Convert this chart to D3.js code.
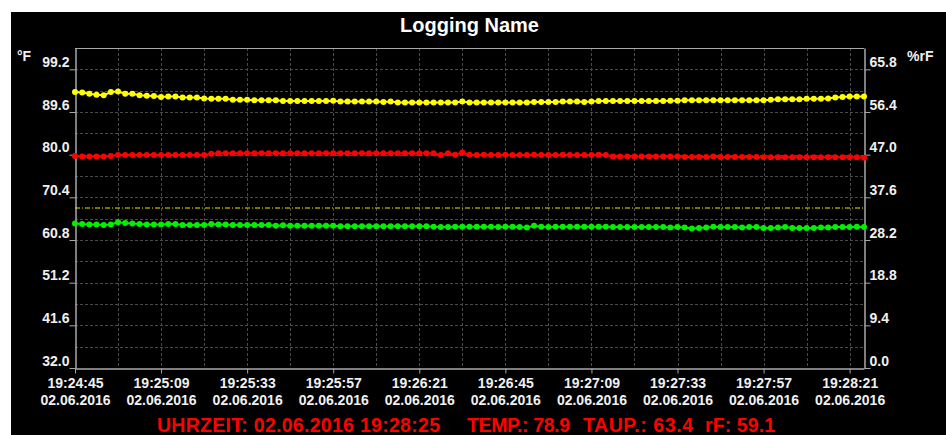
<!DOCTYPE html>
<html>
<head>
<meta charset="utf-8">
<script src="https://cdnjs.cloudflare.com/ajax/libs/d3/7.8.5/d3.min.js"></script>
<style>
html, body { margin: 0; padding: 0; background: #fff; }
svg { display: block; font-family: "Liberation Sans", Arial, sans-serif; font-weight: bold; }
.axis text { fill: #f0f0f0; font-size: 14px; font-weight: bold; }
.axis path, .axis line { stroke: #a8a8a8; }
</style>
</head>
<body>
<svg id="chart" width="946" height="435"></svg>
<script>

var title = "Logging Name";
var start = new Date(2016, 5, 2, 19, 24, 45);
var stepSec = 2, spanSec = 220;
var leftTicks = [32.0, 41.6, 51.2, 60.8, 70.4, 80.0, 89.6, 99.2];
var rightTicks = [0.0, 9.4, 18.8, 28.2, 37.6, 47.0, 56.4, 65.8];
var timeTicks = [0, 24, 48, 72, 96, 120, 144, 168, 192, 216];
var limit = 68.0;

// TEMP. (°F), left axis
var temp = [79.7, 79.6, 79.6, 79.6, 79.6, 79.7,
  79.9, 79.9, 79.9, 79.9, 79.9, 79.9, 79.9, 79.9, 79.9, 79.9, 79.9, 79.9, 79.9,
  80.2,
  80.3, 80.3, 80.3, 80.3, 80.3, 80.3, 80.3, 80.3, 80.3, 80.3, 80.3, 80.3, 80.3, 80.3, 80.3, 80.3,
  80.3, 80.3, 80.3, 80.3, 80.3, 80.3, 80.3, 80.3, 80.3, 80.3, 80.3, 80.3, 80.3, 80.3, 80.3,
  79.9, 80.3, 80.0, 80.5, 80.0,
  79.9, 80.0, 79.9, 79.9, 80.0, 79.9, 79.9, 79.9, 80.0, 79.9, 79.9, 79.9, 80.0, 79.9, 79.9, 79.9, 79.9, 80.0, 79.9,
  79.6, 79.6, 79.6, 79.6, 79.6, 79.6, 79.6, 79.6, 79.6, 79.6,
  79.5, 79.5, 79.5, 79.5, 79.6, 79.5, 79.5, 79.5, 79.5, 79.5, 79.5,
  79.4, 79.4, 79.4, 79.4, 79.4, 79.4, 79.4, 79.4, 79.4, 79.4, 79.4, 79.4, 79.4, 79.4,
  79.3];

// TAUP. (°F), left axis
var taup = [64.5,
  64.4, 64.3, 64.3, 64.2, 64.3, 64.8, 64.6, 64.5, 64.4, 64.3,
  64.3, 64.3, 64.4, 64.4, 64.2, 64.2, 64.2, 64.2, 64.4, 64.3,
  64.3, 64.2, 64.2, 64.2, 64.2, 64.2, 64.2, 64.0, 64.1, 64.0,
  64.0, 64.0, 64.0, 64.0, 64.0, 64.0,
  63.9, 63.9, 63.9, 63.9, 63.9, 63.9, 63.9, 63.9, 63.9, 63.9, 63.9, 63.9, 63.9,
  63.8, 63.7, 63.7, 63.8, 63.8, 63.8,
  63.8, 63.8, 63.8, 63.7, 63.8, 63.8, 63.7, 63.6, 64.0, 63.8,
  63.7, 63.8, 63.8, 63.8, 63.8, 63.8, 63.8, 63.8, 63.8, 63.7,
  63.7, 63.7, 63.7, 63.7, 63.7, 63.7, 63.7, 63.6, 63.7, 63.6,
  63.4, 63.5, 63.6, 63.8, 63.7, 63.7, 63.7, 63.6, 63.7, 63.7,
  63.5, 63.5, 63.6, 63.7, 63.5, 63.5, 63.5, 63.5, 63.6, 63.6,
  63.7, 63.7, 63.7, 63.8, 63.7];

// rF (%), right axis
var rf = [60.8,
  60.7, 60.4, 60.2, 60.1, 60.8, 60.9, 60.4, 60.4, 60.1, 60.0,
  59.9, 59.7, 59.8, 59.8, 59.6, 59.6, 59.6, 59.4, 59.3, 59.3,
  59.3, 59.1, 59.1, 59.1, 59.0, 59.0, 59.0, 59.0, 58.8, 58.8,
  58.8, 58.8, 58.8, 58.8, 58.8, 58.9, 58.7, 58.7, 58.7, 58.7,
  58.7, 58.7, 58.6, 58.7, 58.5, 58.5, 58.5, 58.5, 58.5, 58.5,
  58.5, 58.5, 58.5, 58.7, 58.5,
  58.5, 58.5, 58.5, 58.5, 58.5, 58.5, 58.5, 58.5, 58.6, 58.6,
  58.6, 58.6, 58.7, 58.7, 58.7, 58.6, 58.7, 58.8, 58.8, 58.8,
  58.8, 58.8, 58.8, 58.8, 58.8, 58.8, 58.8, 58.9, 58.9, 59.0,
  59.0, 59.0, 59.0, 59.0, 59.0, 59.0, 59.0, 59.0, 59.0, 59.0,
  59.0, 59.1, 59.2, 59.2, 59.2, 59.2, 59.3, 59.3, 59.3, 59.4,
  59.6, 59.7, 59.8, 59.8, 59.8];

var statusItems = [
  {text: "UHRZEIT: 02.06.2016 19:28:25", x: 157, w: 283},
  {text: "TEMP.: 78.9", x: 467, w: 103},
  {text: "TAUP.: 63.4", x: 583, w: 110},
  {text: "rF: 59.1", x: 705, w: 70}
];

var width = 946, height = 435,
    x0 = 75, x1 = 864, y0 = 368, y1 = 48;

function t(sec) { return new Date(start.getTime() + sec * 1000); }

var svg = d3.select('#chart');

svg.append('rect').attr('width', width).attr('height', height).attr('fill', '#fff');
svg.append('rect').attr('x', 11).attr('y', 12).attr('width', width - 11).attr('height', height - 12).attr('fill', '#000');

var x = d3.scaleTime().domain([start, t(spanSec)]).range([x0, x1]);
var yL = d3.scaleLinear().domain([32, 104]).range([y0, y1]);
var yR = d3.scaleLinear().domain([0, 70.5]).range([y0, y1]);

// grid
var grid = svg.append('g')
    .attr('stroke', '#4a4a4a')
    .attr('stroke-width', 1)
    .attr('stroke-dasharray', '3,2');
grid.selectAll('line.v')
    .data(d3.range(12, spanSec, 12))
    .enter().append('line')
    .attr('x1', function(d) { return Math.round(x(t(d))) + 0.5; })
    .attr('x2', function(d) { return Math.round(x(t(d))) + 0.5; })
    .attr('y1', y1).attr('y2', y0);
grid.selectAll('line.h')
    .data(d3.range(1, 15).map(function(i) { return 32 + 4.8 * i; }))
    .enter().append('line')
    .attr('x1', x0).attr('x2', x1)
    .attr('y1', function(d) { return Math.round(yL(d)) + 0.5; })
    .attr('y2', function(d) { return Math.round(yL(d)) + 0.5; });

// frame top
svg.append('line')
    .attr('x1', x0).attr('x2', x1).attr('y1', y1 + 0.5).attr('y2', y1 + 0.5)
    .attr('stroke', '#a8a8a8');

// left axis
var gl = svg.append('g').attr('class', 'axis')
    .attr('transform', 'translate(' + (x0 + 0.5) + ',0)')
    .call(d3.axisLeft(yL).tickValues(leftTicks).tickFormat(d3.format('.1f'))
        .tickSize(6).tickSizeOuter(0).tickPadding(0));
gl.selectAll('text').attr('dy', -3);
gl.select('.domain').attr('stroke-width', 1.5);

// right axis
var gr = svg.append('g').attr('class', 'axis')
    .attr('transform', 'translate(' + (x1 + 0.5) + ',0)')
    .call(d3.axisRight(yR).tickValues(rightTicks).tickFormat(d3.format('.1f'))
        .tickSize(6).tickSizeOuter(0).tickPadding(-1));
gr.selectAll('text').attr('dy', -3);
gr.select('.domain').attr('stroke-width', 1.5);

// bottom axis
var gb = svg.append('g').attr('class', 'axis')
    .attr('transform', 'translate(0,' + (y0 + 0.5) + ')')
    .call(d3.axisBottom(x).tickValues(timeTicks.map(t)).tickFormat('')
        .tickSize(5).tickSizeOuter(0));
gb.select('.domain').attr('stroke-width', 1.5);
var fTime = d3.timeFormat('%H:%M:%S'), fDate = d3.timeFormat('%d.%m.%Y');
gb.selectAll('.tick').each(function(d) {
    var tx = d3.select(this).append('text').attr('text-anchor', 'middle');
    tx.append('tspan').attr('x', 0).attr('y', 19).text(fTime(d));
    tx.append('tspan').attr('x', 0).attr('y', 36).text(fDate(d));
});

// units
svg.append('text').attr('x', 17).attr('y', 61).attr('fill', '#f0f0f0')
    .attr('font-size', 14).text('°F');
svg.append('text').attr('x', 907).attr('y', 61).attr('fill', '#f0f0f0')
    .attr('font-size', 14).text('%rF');

// title
svg.append('text').attr('x', (x0 + x1) / 2).attr('y', 32)
    .attr('text-anchor', 'middle').attr('fill', '#fff')
    .attr('font-size', 20).text(title);

// limit line
svg.append('line')
    .attr('x1', x0).attr('x2', x1)
    .attr('y1', yL(limit)).attr('y2', yL(limit))
    .attr('stroke', '#e6e600').attr('stroke-width', 1)
    .attr('stroke-dasharray', '5,2,1,2');

// series
var series = [
    {values: rf, y: yR, color: '#ffff00'},
    {values: temp, y: yL, color: '#ff0000'},
    {values: taup, y: yL, color: '#00f000'}
];
series.forEach(function(s) {
    var pts = s.values.map(function(v, i) { return [t(i * stepSec), v]; });
    var line = d3.line()
        .x(function(d) { return x(d[0]); })
        .y(function(d) { return s.y(d[1]); });
    svg.append('path')
        .attr('d', line(pts))
        .attr('fill', 'none')
        .attr('stroke', s.color)
        .attr('stroke-width', 2);
    svg.append('g').selectAll('circle')
        .data(pts)
        .enter().append('circle')
        .attr('cx', function(d) { return x(d[0]); })
        .attr('cy', function(d) { return s.y(d[1]); })
        .attr('r', 3)
        .attr('fill', s.color);
});

// status line
svg.append('g').selectAll('text')
    .data(statusItems)
    .enter().append('text')
    .attr('x', function(d) { return d.x; })
    .attr('y', 432)
    .attr('fill', '#ff0000')
    .attr('font-size', 19.5)
    .attr('textLength', function(d) { return d.w; })
    .attr('lengthAdjust', 'spacing')
    .text(function(d) { return d.text; });

</script>
</body>
</html>
